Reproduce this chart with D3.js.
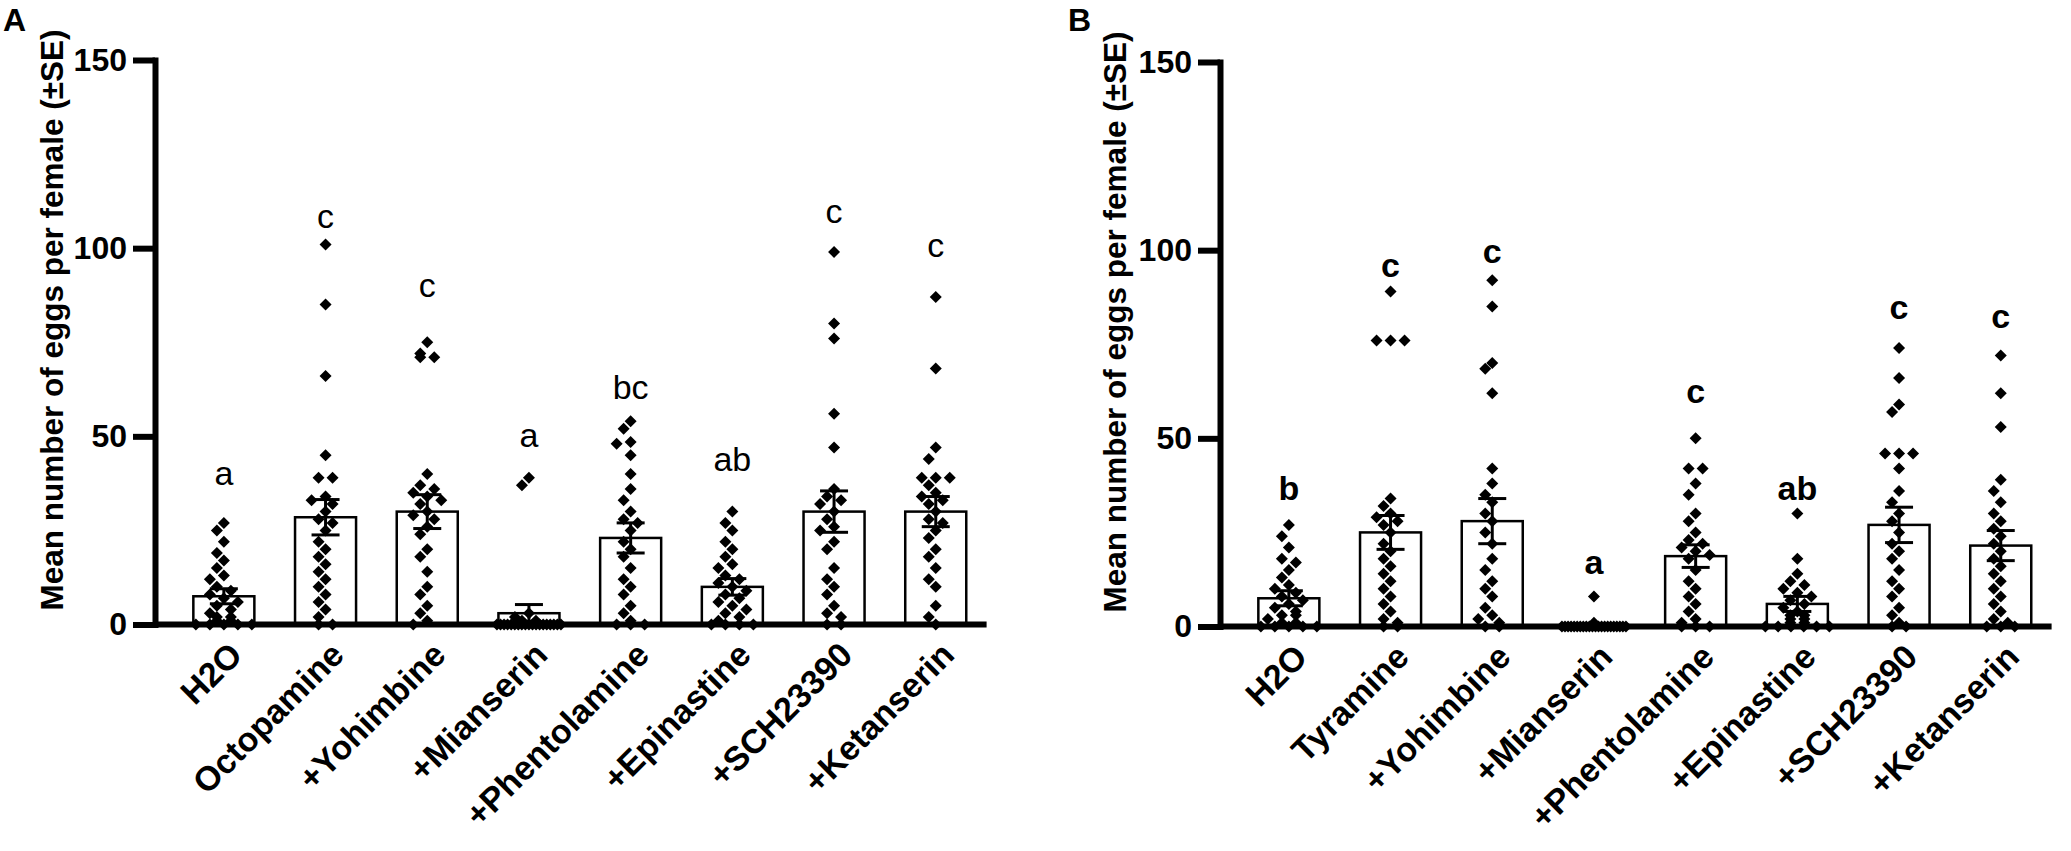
<!DOCTYPE html>
<meta charset="utf-8">
<body style="margin:0;background:#fff">
<script src="https://cdn.jsdelivr.net/npm/d3@7"></script>
<script>
// categories
var categoriesA = ["H2O","Octopamine","+Yohimbine","+Mianserin","+Phentolamine","+Epinastine","+SCH23390","+Ketanserin"];
var categoriesB = ["H2O","Tyramine","+Yohimbine","+Mianserin","+Phentolamine","+Epinastine","+SCH23390","+Ketanserin"];
var yTicks = [0, 50, 100, 150];

// panel A - eggs per female, one value per female
var aH2O = [27,25,22,19,17,15,13,12,10,9,8,7,6,5,4,3,2,2,1,1,0,0,0,0,0];
var aOct = [101,85,66,45,39,39,34,33,32,30,28,27,25,22,20,18,16,14,12,10,8,6,4,2,0,0];
var aYoh = [75,72,71,71,40,37,36,35,34,33,32,30,29,28,26,24,20,18,14,10,8,5,3,1,0];
var aMia = [39,37,3,2,1,1,0,0,0,0,0,0,0,0,0,0,0,0,0,0,0,0,0,0,0];
var aPhe = [54,52,48.5,48,45,40,36,33,30,28,27,25,22,20,18,15,12,10,8,5,3,1,0,0,0];
var aEpi = [30,27,25,22,20,18,16,15,13,12,11,10,9,8,7,6,5,4,3,2,1,0,0,0,0];
var aSch = [99,80,76,56,47,36,34,33,32,30,28,26,25,22,20,15,12,10,8,5,3,2,0,0];
var aKet = [87,68,47,44,39,39,39,37,35,34,33,32,30,28,27,25,23,20,18,15,12,10,5,2,0];
var meansA = [7.5,28.5,30,3,23,10,30,30];
var seA = [2,4.7,4.5,2.3,4,2.2,5.5,4];
var lettersA = ["a","c","c","a","bc","ab","c","c"];
var letterLevelA = [37,105.4,87.1,47.1,60,40.8,106.8,97.7];

// panel B
var bH2O = [27,24,21,18,17,15,13,11,10,9,8,7,6,5,4,3,3,2,1,1,0,0,0,0,0];
var bTyr = [89,76,76,76,34,32,30,29,28,27,25,22,20,18,16,14,12,10,8,6,4,2,1,0,0];
var bYoh = [92,85,70,68.5,62,42,38,35,33,30,28,25,22,18,15,12,10,8,5,3,2,1,0,0];
var bMia = [8,1,0,0,0,0,0,0,0,0,0,0,0,0,0,0,0,0,0,0,0,0,0,0];
var bPhe = [50,42,42,38,35,30,28,25,23,22,21,20,19,18,15,12,10,8,6,4,2,1,0,0,0];
var bEpi = [30,18,14,12,11,10,9,8,7,6,5,4,3,3,2,2,1,1,0,0,0,0,0,0];
var bSch = [74,66,59,57,46,46,46,42,36,33,30,28,25,22,20,18,15,12,10,8,5,3,1,0,0];
var bKet = [72,62,53,39,36,33,30,28,26,24,22,20,18,16,14,12,10,8,6,4,2,1,0,0,0];
var meansB = [7.5,25,28,0.4,18.7,6,27,21.5];
var seB = [2,4.5,6,0.4,3,2,4.7,4];
var lettersB = ["b","c","c","a","c","ab","c","c"];
var letterLevelB = [33.6,93,96.7,14,59.3,33.6,81.6,79.4];

var FONT = "'Liberation Sans', Arial, sans-serif";
var svg = d3.select("body").append("svg").attr("width",2071).attr("height",851)
  .style("font-family", FONT);
svg.append("rect").attr("width",2071).attr("height",851).attr("fill","#fff");

// simple dot spreading so females with close counts do not overlap
function spread(vals, y) {
  var placed = [];
  var groups = d3.groups(vals, function(v){return v;}).sort(function(a,b){return b[0]-a[0];});
  groups.forEach(function(g) {
    var v = g[0], n = g[1].length, py = y(v);
    if (n > 1) {
      var step = Math.min(14, 64/(n-1));
      for (var i = 0; i < n; i++) placed.push({v:v, py:py, dx:(i-(n-1)/2)*step});
    } else {
      var best = 0, bestD = -1;
      for (var k = 0; k < 11; k++) {
        var c = (k % 2 ? -1 : 1) * Math.ceil(k/2) * 7;
        var dmin = d3.min(placed, function(p){return Math.abs(p.dx-c)+Math.abs(p.py-py);});
        if (dmin === undefined || dmin >= 12.5) { best = c; bestD = 99; break; }
        if (dmin > bestD) { bestD = dmin; best = c; }
      }
      placed.push({v:v, py:py, dx:best});
    }
  });
  return placed;
}

function drawPanel(cfg) {
  var g = svg.append("g");
  var y = d3.scaleLinear().domain([0,150]).range([cfg.y0, cfg.y150]);
  var x = d3.scaleBand().domain(cfg.cats).range([cfg.ax+18, cfg.ax+18+8*101.7])
    .paddingInner(0.4).paddingOuter(0.2);
  var bw = x.bandwidth();

  // bars
  g.selectAll("rect.bar").data(cfg.cats).enter().append("rect")
    .attr("x", function(d){return x(d);})
    .attr("y", function(d,i){return y(cfg.means[i]);})
    .attr("width", bw)
    .attr("height", function(d,i){return cfg.y0 - y(cfg.means[i]);})
    .attr("fill","#fff").attr("stroke","#000").attr("stroke-width",2.5);

  // dots
  var diamond = d3.symbol().type(d3.symbolSquare).size(72);
  cfg.cats.forEach(function(c,i) {
    var cx = x(c) + bw/2;
    g.append("g").selectAll("path").data(spread(cfg.groups[i], y)).enter().append("path")
      .attr("d", diamond)
      .attr("transform", function(p){return "translate("+(cx+p.dx)+","+p.py+") rotate(45)";})
      .attr("fill","#000");
  });

  // error bars (mean +- SE)
  var eb = g.selectAll("g.eb").data(cfg.cats).enter().append("g")
    .attr("stroke","#000").attr("stroke-width",3);
  eb.append("line")
    .attr("x1", function(d){return x(d)+bw/2;}).attr("x2", function(d){return x(d)+bw/2;})
    .attr("y1", function(d,i){return y(Math.max(0,cfg.means[i]-cfg.se[i]));})
    .attr("y2", function(d,i){return y(cfg.means[i]+cfg.se[i]);});
  [1,-1].forEach(function(s) {
    eb.append("line")
      .attr("x1", function(d){return x(d)+bw/2-14;}).attr("x2", function(d){return x(d)+bw/2+14;})
      .attr("y1", function(d,i){return y(Math.max(0,cfg.means[i]+s*cfg.se[i]));})
      .attr("y2", function(d,i){return y(Math.max(0,cfg.means[i]+s*cfg.se[i]));});
  });

  // significance letters
  g.selectAll("text.let").data(cfg.letters).enter().append("text")
    .attr("x", function(d,i){return x(cfg.cats[i])+bw/2;})
    .attr("y", function(d,i){return y(cfg.levels[i]);})
    .attr("text-anchor","middle")
    .attr("font-size", 34).attr("font-weight", cfg.letterWeight)
    .text(function(d){return d;});

  // y axis
  var ya = g.append("g").attr("transform","translate("+cfg.ax+",0)")
    .call(d3.axisLeft(y).tickValues(yTicks).tickSize(22).tickSizeOuter(0).tickPadding(6));
  ya.select(".domain").attr("stroke-width",6).attr("stroke-linecap","square");
  ya.selectAll(".tick line").attr("stroke-width",6);
  ya.selectAll(".tick text").attr("font-size",32).attr("font-weight","bold")
    .attr("font-family",FONT).attr("fill","#000");

  // x axis
  var xa = g.append("g").attr("transform","translate(0,"+cfg.y0+")")
    .call(d3.axisBottom(x).tickSize(0).tickSizeOuter(0));
  xa.select(".domain").remove();
  xa.append("line").attr("x1",cfg.ax).attr("x2",cfg.ax+18+8*101.7)
    .attr("stroke","#000").attr("stroke-width",6);
  xa.selectAll(".tick text")
    .attr("font-size",34).attr("font-weight","bold").attr("font-family",FONT).attr("fill","#000")
    .attr("text-anchor","end").attr("x",0).attr("y",0).attr("dy",".35em")
    .attr("transform","translate(12,24) rotate(-45)");

  // y title
  g.append("text")
    .attr("transform","translate("+cfg.titleX+","+cfg.titleY+") rotate(-90)")
    .attr("text-anchor","middle").attr("dy",".35em")
    .attr("font-size",31.5).attr("font-weight","bold")
    .text("Mean number of eggs per female (\u00b1SE)");

  // panel tag
  g.append("text").attr("x",cfg.tagX).attr("y",31)
    .attr("font-size",32).attr("font-weight","bold").text(cfg.tag);
}

drawPanel({cats:categoriesA, groups:[aH2O,aOct,aYoh,aMia,aPhe,aEpi,aSch,aKet],
  means:meansA, se:seA, letters:lettersA, levels:letterLevelA, letterWeight:"normal",
  ax:155, y0:624.5, y150:60, titleX:52, titleY:320, tag:"A", tagX:3});
drawPanel({cats:categoriesB, groups:[bH2O,bTyr,bYoh,bMia,bPhe,bEpi,bSch,bKet],
  means:meansB, se:seB, letters:lettersB, levels:letterLevelB, letterWeight:"bold",
  ax:1220, y0:626.5, y150:62, titleX:1115, titleY:322, tag:"B", tagX:1068});
</script>
</body>
